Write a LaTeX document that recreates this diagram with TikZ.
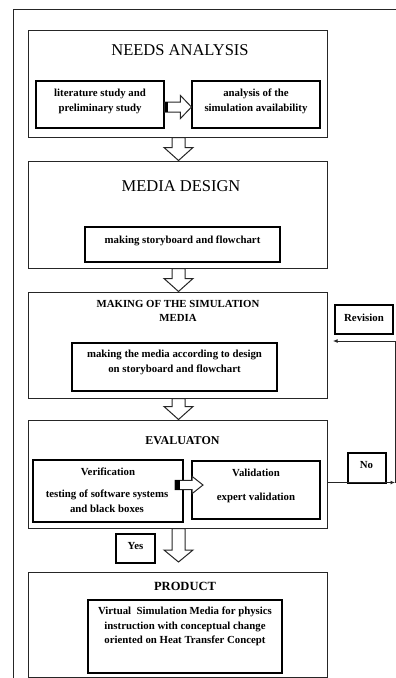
\documentclass[tikz,border=0pt]{standalone}
\usepackage{fontspec}
\setmainfont{Liberation Serif}
\usetikzlibrary{calc,arrows.meta}
\newcommand\dblock[3]{% from node anchor #1 to anchor #2, head length #3
  \draw[blk] let \p1=(#1), \p2=(#2) in
    (\x1-6.5pt,\y1) -- (\x1-6.5pt,\y2+#3) -- (\x1-14.5pt,\y2+#3) -- (\x1,\y2)
    -- (\x1+14.5pt,\y2+#3) -- (\x1+6.5pt,\y2+#3) -- (\x1+6.5pt,\y1) -- cycle;}
\newcommand\rblock[6]{% from #1 to #2, shaft half #3, head half #4, head len #5, black block #6
  \draw[blk] let \p1=(#1), \p2=(#2) in
    (\x1,\y1+#3) -- (\x2-#5,\y1+#3) -- (\x2-#5,\y1+#4) -- (\x2,\y1)
    -- (\x2-#5,\y1-#4) -- (\x2-#5,\y1-#3) -- (\x1,\y1-#3) -- cycle;
  \fill[black] let \p1=(#1) in (\x1,\y1-#3) rectangle (\x1+#6,\y1+#3);}
\begin{document}
\begin{tikzpicture}[x=1pt,y=-1pt,
  box/.style={draw=black!85, line width=1pt, inner sep=0pt},
  sub/.style={draw=black, line width=1.1pt, inner sep=0pt},
  small/.style={font=\fontsize{10.8}{15}\selectfont\bfseries, inner sep=0pt, anchor=base},
  big/.style={font=\fontsize{16.5}{18}\selectfont, inner sep=0pt, anchor=base},
  head/.style={font=\fontsize{10.8}{14}\selectfont\bfseries, inner sep=0pt, anchor=base},
  blk/.style={draw=black!85, line width=1pt, fill=white, line join=miter},
  conn/.style={draw=black!85, line width=0.9pt},
]
\useasboundingbox (0,0) rectangle (396,678);

% outer frame
\coordinate (fbl) at (13.5,678);
\coordinate (ftl) at (13.5,9);
\coordinate (ftr) at (396,9);
\draw[box] (fbl) -- (ftl) -- (ftr);

% NEEDS ANALYSIS
\node[box, minimum width=299pt, minimum height=107pt] (na) at (177.5,83.5) {};
\node[big] (natitle) at (180,55) {NEEDS ANALYSIS};
\node[sub, minimum width=128pt, minimum height=47pt] (ls) at (100,104.5) {};
\node[small] (ls1) at (100,96.7) {literature study and};
\node[small] (ls2) at (100,111.7) {preliminary study};
\node[sub, minimum width=128pt, minimum height=47pt] (as) at (256,104.5) {};
\node[small] (as1) at (256,96.7) {analysis of the};
\node[small] (as2) at (256,111.7) {simulation availability};
\rblock{[yshift=-2.5pt]ls.east}{[yshift=-2.5pt]as.west}{5pt}{11.5pt}{11pt}{3.5pt}

% MEDIA DESIGN
\node[box, minimum width=299pt, minimum height=107pt] (md) at (177.5,214.5) {};
\node[big] (mdtitle) at (181,191.7) {MEDIA DESIGN};
\node[sub, minimum width=195pt, minimum height=35pt] (sb) at (182.5,244.5) {};
\node[small] (sb1) at (182.5,243.3) {making storyboard and flowchart};
\dblock{[xshift=1pt]na.south}{[xshift=1pt]md.north}{13pt}

% MAKING OF THE SIMULATION MEDIA
\node[box, minimum width=299pt, minimum height=106pt] (mk) at (177.5,345) {};
\node[head] (mkt1) at (178,307.7) {MAKING OF THE SIMULATION};
\node[head] (mkt2) at (178,321.7) {MEDIA};
\node[sub, minimum width=205pt, minimum height=48pt] (mm) at (174.5,367) {};
\node[small] (mm1) at (174.5,357.7) {making the media according to design};
\node[small] (mm2) at (174.5,372) {on storyboard and flowchart};
\dblock{[xshift=1pt]md.south}{[xshift=1pt]mk.north}{13pt}

% EVALUATION
\node[box, minimum width=299pt, minimum height=108pt] (ev) at (177.5,474) {};
\node[head, font=\fontsize{12}{14}\selectfont\bfseries] (evt) at (182.5,444.3) {EVALUATON};
\node[sub, minimum width=150pt, minimum height=62pt] (vf) at (108,491) {};
\node[small] (vf1) at (108,475.7) {Verification};
\node[small] (vf2) at (107,497.3) {testing of software systems};
\node[small] (vf3) at (107,512.3) {and black boxes};
\node[sub, minimum width=128pt, minimum height=58pt] (vl) at (256,490) {};
\node[small] (vl1) at (256,476.7) {Validation};
\node[small] (vl2) at (256,500.7) {expert validation};
\dblock{[xshift=1pt]mk.south}{[xshift=1pt]ev.north}{13pt}
\coordinate (va) at (175,485);
\coordinate (vb) at (203,485);
\rblock{va}{vb}{4.7pt}{8.7pt}{11pt}{4.5pt}

% Revision / No loop
\node[sub, minimum width=58pt, minimum height=29pt] (rev) at (364,319.5) {};
\node[small] (revt) at (364,321.7) {Revision};
\node[sub, minimum width=38pt, minimum height=30pt] (no) at (367,468) {};
\node[small] (not) at (366.5,468) {No};
\coordinate (nocorner) at (395,482.5);
\coordinate (revcorner) at (395,341);
\coordinate (revtip) at (333,341);
\draw[conn,-{Latex[length=4.5pt,width=4pt]}] (nocorner -| ev.east) -- (nocorner);
\draw[conn,-{Latex[length=4.5pt,width=4pt]}] (nocorner) -- (revcorner) -- (revtip);

% Yes + arrow to PRODUCT
\node[sub, minimum width=39pt, minimum height=29pt] (yes) at (135.5,548.5) {};
\node[small] (yest) at (135.5,549) {Yes};
\coordinate (prtip) at (178.5,562);
\dblock{[xshift=1pt]ev.south}{prtip}{12pt}

% PRODUCT
\node[box, minimum width=299pt, minimum height=105pt] (pr) at (177.5,624.5) {};
\node[head, font=\fontsize{12.5}{14}\selectfont\bfseries] (prt) at (185,590) {PRODUCT};
\node[sub, minimum width=194pt, minimum height=73pt] (vs) at (185,636.5) {};
\node[small] (vs1) at (185,614) {Virtual\ \ Simulation Media for physics};
\node[small] (vs2) at (185,629.3) {instruction with conceptual change};
\node[small] (vs3) at (185,643.3) {oriented on Heat Transfer Concept};
\end{tikzpicture}
\end{document}
